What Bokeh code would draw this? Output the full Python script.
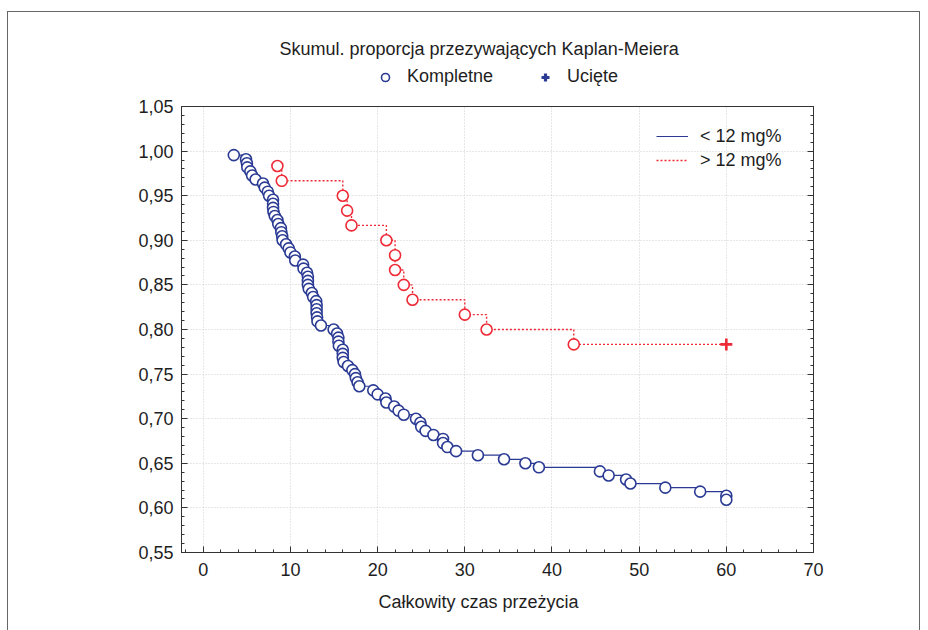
import numpy as np
from bokeh.plotting import figure
from bokeh.layouts import column
from bokeh.models import (ColumnDataSource, Range1d, FixedTicker, CustomJSTickFormatter,
                          LinearAxis, Legend, LegendItem, Title)
from bokeh.embed import file_html
from bokeh.resources import INLINE

# ---------------- data ----------------
# group "< 12 mg%": event times and cumulative survival proportion
low_time = [3.5, 4.9, 5.0, 5.05, 5.4, 5.6, 6.0, 6.85, 7.05, 7.4,
            7.55, 8.0, 8.0, 8.0, 8.05, 8.2, 8.5, 8.6, 8.9, 8.95,
            9.05, 9.1, 9.5, 9.8, 10.0, 10.5, 10.55, 11.45, 11.5, 11.9,
            12.0, 12.0, 12.0, 12.1, 12.45, 12.6, 12.95, 13.0, 13.0, 13.0,
            13.05, 13.1, 13.5, 14.95, 15.35, 15.5, 15.5, 15.55, 16.0, 16.0,
            16.0, 16.1, 16.6, 17.1, 17.4, 17.5, 17.7, 17.9, 19.5, 20.0,
            20.9, 21.0, 21.9, 22.4, 23.0, 24.4, 24.9, 25.0, 25.5, 26.4,
            27.5, 27.5, 28.0, 29.0, 31.5, 34.5, 36.95, 38.5, 45.5, 46.5,
            48.5, 49.0, 53.0, 57.0, 60.0, 60.0]
low_surv = [0.9955, 0.9909, 0.9864, 0.9818, 0.9773, 0.9727, 0.9682, 0.9636, 0.9591, 0.9545,
            0.9500, 0.9455, 0.9409, 0.9364, 0.9318, 0.9273, 0.9227, 0.9182, 0.9136, 0.9091,
            0.9045, 0.9000, 0.8955, 0.8909, 0.8864, 0.8818, 0.8773, 0.8727, 0.8682, 0.8636,
            0.8591, 0.8545, 0.8500, 0.8455, 0.8409, 0.8364, 0.8318, 0.8273, 0.8227, 0.8182,
            0.8136, 0.8091, 0.8045, 0.8000, 0.7955, 0.7909, 0.7864, 0.7818, 0.7773, 0.7727,
            0.7682, 0.7636, 0.7591, 0.7545, 0.7500, 0.7455, 0.7409, 0.7364, 0.7318, 0.7273,
            0.7227, 0.7182, 0.7136, 0.7091, 0.7045, 0.7000, 0.6955, 0.6909, 0.6864, 0.6818,
            0.6773, 0.6727, 0.6682, 0.6636, 0.6591, 0.6545, 0.6500, 0.6455, 0.6409, 0.6364,
            0.6318, 0.6273, 0.6227, 0.6182, 0.6136, 0.6091]

# group "> 12 mg%"
high_time = [8.5, 9.0, 16.0, 16.5, 17.0, 21.0, 22.0, 22.0, 23.0, 24.0, 30.0, 32.5, 42.5]
high_surv = [0.9833, 0.9667, 0.9500, 0.9333, 0.9167, 0.9000, 0.8833, 0.8667, 0.8500,
             0.8333, 0.8167, 0.8000, 0.7833]
high_cens_time = [60.0]
high_cens_surv = [0.7833]

x_ticks = [0, 10, 20, 30, 40, 50, 60, 70]
y_ticks = [0.55, 0.60, 0.65, 0.70, 0.75, 0.80, 0.85, 0.90, 0.95, 1.00, 1.05]

title_text = "Skumul. proporcja przezywających Kaplan-Meiera"
x_label = "Całkowity czas przeżycia"
series_names = ["< 12 mg%", "> 12 mg%"]
marker_names = ["Kompletne", "Ucięte"]

# ---------------- style ----------------
NAVY = "#2b3b94"
RED = "#ee2a36"
FONT = "Liberation Sans"
FS = "18px"
TXT = "#1e1e1e"

low_src = ColumnDataSource(data=dict(t=low_time, s=low_surv))
high_src = ColumnDataSource(data=dict(t=high_time, s=high_surv))
high_step_src = ColumnDataSource(data=dict(t=high_time + high_cens_time,
                                           s=high_surv + high_cens_surv))
cens_src = ColumnDataSource(data=dict(t=high_cens_time, s=high_cens_surv))

# ---------------- header: title + marker legend ----------------
header = figure(width=911, height=84, x_range=Range1d(100, 101), y_range=Range1d(0, 1),
                x_axis_type=None, y_axis_type=None, output_backend="svg",
                toolbar_location=None, min_border_left=173, min_border_right=106,
                min_border_top=51, min_border_bottom=0)
header.grid.visible = False
header.outline_line_color = None
header.title.text = title_text
header.title.text_font = FONT
header.title.text_font_size = FS
header.title.text_font_style = "normal"
header.title.text_color = TXT
header.title.align = "left"
header.title.offset = 98
header.title.standoff = 10

# symbol renderers for the legend (the header's range lies outside the data)
h_circ = header.scatter("t", "s", source=low_src, marker="circle", size=11, line_color=NAVY,
                        line_width=1.6, fill_color="white")
h_cross = header.scatter("t", "s", source=cens_src, marker="cross", size=16, line_color=NAVY,
                         line_width=3.2)
leg_top = Legend(items=[LegendItem(label=marker_names[0], renderers=[h_circ]),
                        LegendItem(label=marker_names[1], renderers=[h_cross])],
                 orientation="horizontal", location=(194, 9), glyph_width=20, glyph_height=20,
                 label_height=21, label_standoff=12, spacing=42, padding=0, margin=0,
                 label_text_font=FONT, label_text_font_size=FS, label_text_color=TXT,
                 border_line_alpha=0, background_fill_alpha=0)
header.add_layout(leg_top)

# ---------------- main plot ----------------
p = figure(width=911, height=536, x_range=Range1d(-2.5, 70), y_range=Range1d(0.55, 1.05),
           output_backend="svg", toolbar_location=None,
           min_border_left=173, min_border_right=106, min_border_top=10, min_border_bottom=80)
p.title = None
p.outline_line_color = "#333333"
p.background_fill_color = "white"
p.border_fill_color = "white"

x_minor = list(np.round(np.arange(-2, 70.01, 2.0), 3))
y_minor = list(np.round(np.arange(0.55, 1.0501, 0.01), 3))
xt = FixedTicker(ticks=x_ticks, minor_ticks=x_minor)
yt = FixedTicker(ticks=y_ticks, minor_ticks=y_minor)

def style_axis(ax):
    ax.axis_line_color = "#333333"
    ax.major_tick_line_color = "#333333"
    ax.minor_tick_line_color = "#333333"
    ax.major_tick_in = 6
    ax.major_tick_out = 0
    ax.minor_tick_in = 3
    ax.minor_tick_out = 0
    ax.major_label_text_font = FONT
    ax.major_label_text_font_size = FS
    ax.major_label_text_color = TXT

xa = p.xaxis[0]
ya = p.yaxis[0]
xa.ticker = xt
ya.ticker = yt
style_axis(xa)
style_axis(ya)
xa.major_label_standoff = 10
ya.major_label_standoff = 8
ya.formatter = CustomJSTickFormatter(code="return tick.toFixed(2).replace('.', ',');")

ra = LinearAxis(ticker=yt, formatter=CustomJSTickFormatter(code="return '';"))
style_axis(ra)
ra.major_label_standoff = 0
p.add_layout(ra, "right")

p.xgrid.ticker = xt
p.ygrid.ticker = yt
for g in (p.xgrid[0], p.ygrid[0]):
    g.grid_line_color = "#cfcfcf"
    g.grid_line_dash = "1 2"
    g.grid_line_width = 1

xl = Title(text=x_label, align="left", offset=197, text_font=FONT, text_font_size=FS,
           text_font_style="normal", text_color=TXT, standoff=22)
p.add_layout(xl, "below")

r_low_line = p.step("t", "s", source=low_src, mode="after", line_color=NAVY, line_width=1.2)
r_high_line = p.step("t", "s", source=high_step_src, mode="after", line_color=RED,
                     line_width=1.4, line_dash="2 2")
r_low_pts = p.scatter("t", "s", source=low_src, marker="circle", size=11, line_color=NAVY,
                      line_width=1.6, fill_color="white")
r_high_pts = p.scatter("t", "s", source=high_src, marker="circle", size=11, line_color=RED,
                       line_width=1.6, fill_color="white")
r_cens = p.scatter("t", "s", source=cens_src, marker="cross", size=12, line_color=RED,
                   line_width=2.6)

leg_in = Legend(items=[LegendItem(label=series_names[0], renderers=[r_low_line]),
                       LegendItem(label=series_names[1], renderers=[r_high_line])],
                location=(475, 380), glyph_width=32, glyph_height=24, label_height=24,
                label_standoff=12, spacing=0, padding=0, margin=0,
                label_text_font=FONT, label_text_font_size=FS, label_text_color=TXT,
                border_line_alpha=0, background_fill_alpha=0)
p.add_layout(leg_in)

layout = column(header, p, spacing=0, width=911)
layout.styles = {"margin-left": "8px", "margin-top": "12px", "margin-bottom": "-30px",
                 "width": "911px", "box-shadow": "0 0 0 1px #666666"}

open("out.html", "w").write(file_html(layout, INLINE))
